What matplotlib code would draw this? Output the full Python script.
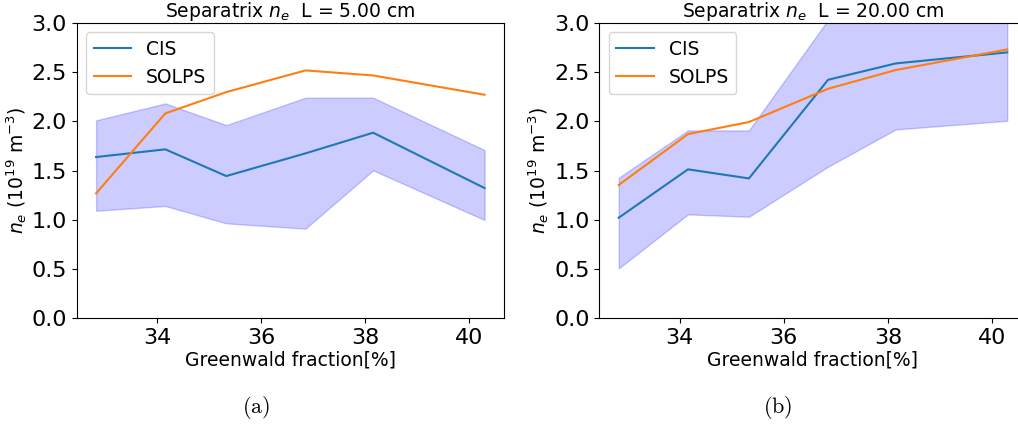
import numpy as np
import matplotlib
matplotlib.use("Agg")
import matplotlib.pyplot as plt

# Greenwald fraction of each shot [%]
greenwald = [32.83, 34.16, 35.33, 36.85, 38.15, 40.29]

# L = 5 cm
cis_5 = [1.637, 1.715, 1.444, 1.674, 1.884, 1.322]
cis_5_hi = [2.009, 2.181, 1.961, 2.239, 2.239, 1.708]
cis_5_lo = [1.092, 1.140, 0.964, 0.910, 1.502, 0.998]
solps_5 = [1.268, 2.080, 2.296, 2.516, 2.465, 2.269]

# L = 20 cm
cis_20 = [1.021, 1.512, 1.420, 2.421, 2.587, 2.699]
cis_20_hi = [1.427, 1.907, 1.907, 3.030, 3.300, 3.400]
cis_20_lo = [0.507, 1.055, 1.031, 1.539, 1.917, 2.005]
solps_20 = [1.353, 1.870, 1.992, 2.330, 2.520, 2.729]

panels = [
    ("5.00", cis_5, cis_5_lo, cis_5_hi, solps_5, "(a)", 0.2515),
    ("20.00", cis_20, cis_20_lo, cis_20_hi, solps_20, "(b)", 0.764),
]

fig = plt.figure(figsize=(10.18, 4.25), dpi=100)
lefts = [0.0753, 0.5887]

for left, (L, cis, lo, hi, solps, tag, xcap) in zip(lefts, panels):
    ax = fig.add_axes([left, 0.251, 0.4198, 0.6955])
    ax.plot(greenwald, cis, color="tab:blue", label="CIS")
    ax.fill_between(greenwald, lo, hi, color="b", alpha=0.2)
    ax.plot(greenwald, solps, color="tab:orange", label="SOLPS")
    ax.set_ylim(0, 3.0)
    ax.set_yticks(np.arange(0, 3.01, 0.5))
    ax.set_xticks([34, 36, 38, 40])
    ax.tick_params(labelsize=16)
    ax.set_title(r"Separatrix $n_e$  L = %s cm" % L, fontsize=13.5, pad=3)
    ax.set_xlabel("Greenwald fraction[%]", fontsize=13.5, labelpad=2)
    ax.set_ylabel(r"$n_e$ (10$^{19}$ m$^{-3}$)", fontsize=13.5, labelpad=2)
    ax.legend(loc="upper left", fontsize=13.5)
    # subfigure caption under each panel
    fig.text(xcap, 0.042, r"$\mathrm{%s}$" % tag,
             math_fontfamily="cm", fontsize=16, ha="center", va="center")

fig.savefig("out.png", dpi=100)
